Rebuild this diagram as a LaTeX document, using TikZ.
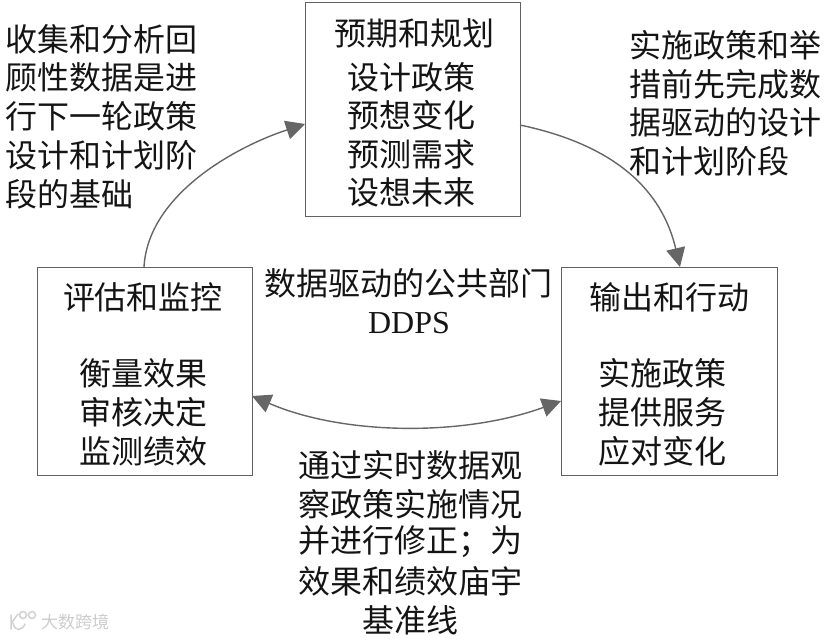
\documentclass[tikz,border=0pt]{standalone}
\usepackage{fontspec}
\setmainfont{Noto Sans CJK SC}
\newfontfamily\latinserif{Liberation Serif}
\usetikzlibrary{arrows.meta}
\tikzset{
  box/.style={draw=black!62,line width=1.4pt,fill=white,inner sep=0pt,anchor=north west},
  lbl/.style={inner sep=0pt,align=center,text=black!92,font=\fontsize{32}{32}\selectfont},
  lft/.style={lbl,anchor=west},
  tip/.tip={Triangle[length=19pt,width=19pt]},
  cnct/.style={draw=black!60,line width=1.4pt,-tip},
}
\begin{document}
\begin{tikzpicture}[x=1pt,y=-1pt]
\useasboundingbox (0,0) rectangle (831,638);
\node[box,minimum width=215,minimum height=214] (plan) at (305,2) {};
\node[box,minimum width=215,minimum height=208] (eval) at (37,267) {};
\node[box,minimum width=216,minimum height=208] (out) at (561,267) {};
\coordinate (a1) at (144,267);
\coordinate (a2) at (305,124);
\draw[cnct] (a1) .. controls (148,195) and (235,147) .. (a2);
\coordinate (b1) at (520,125);
\coordinate (b2) at (680,267);
\draw[cnct] (b1) .. controls (615,145) and (662,190) .. (b2);
\coordinate (c1) at (252,396);
\coordinate (c2) at (561,401);
\draw[cnct,tip-tip] (c1) .. controls (345,436) and (465,436) .. (c2);
\node[lbl] (t1) at (414,33) {预期和规划};
\node[lbl] (p1) at (411,77) {设计政策};
\node[lbl] (p2) at (411,115) {预想变化};
\node[lbl] (p3) at (411,154) {预测需求};
\node[lbl] (p4) at (411,192) {设想未来};
\node[lbl] (e0) at (143,297) {评估和监控};
\node[lbl] (e1) at (143,373) {衡量效果};
\node[lbl] (e2) at (143,412) {审核决定};
\node[lbl] (e3) at (143,451) {监测绩效};
\node[lbl] (o0) at (669,297) {输出和行动};
\node[lbl] (o1) at (662,373) {实施政策};
\node[lbl] (o2) at (662,412) {提供服务};
\node[lbl] (o3) at (662,451) {应对变化};
\node[lbl] (c0) at (408,283) {数据驱动的公共部门};
\node[lbl] (c00) at (409,323) {\latinserif DDPS};
\node[lft] (l1) at (5,39) {收集和分析回};
\node[lft] (l2) at (5,77) {顾性数据是进};
\node[lft] (l3) at (5,116) {行下一轮政策};
\node[lft] (l4) at (5,155) {设计和计划阶};
\node[lft] (l5) at (5,194) {段的基础};
\node[lft] (r1) at (629,45) {实施政策和举};
\node[lft] (r2) at (629,84) {措前先完成数};
\node[lft] (r3) at (629,122) {据驱动的设计};
\node[lft] (r4) at (629,161) {和计划阶段};
\node[lbl] (b01) at (410,465) {通过实时数据观};
\node[lft] (b02) at (298,504) {察政策实施情况};
\node[lft] (b03) at (298,542) {并进行修正；为};
\node[lft] (b04) at (298,581) {效果和绩效庙宇};
\node[lbl] (b05) at (410,620) {基准线};
% watermark
\begin{scope}[draw=black!18,line width=1.5pt,line cap=round]
\draw (11,615) -- (11,629) (12,622) -- (18,614) (13,623) .. controls (15,632) and (22,631) .. (25,624);
\draw (23,615) circle[radius=3.5] (32,615) circle[radius=3.5];
\end{scope}
\node[inner sep=0pt,anchor=west,text=black!20,font=\fontsize{17}{17}\selectfont] (w) at (41,622) {大数跨境};
\end{tikzpicture}
\end{document}
